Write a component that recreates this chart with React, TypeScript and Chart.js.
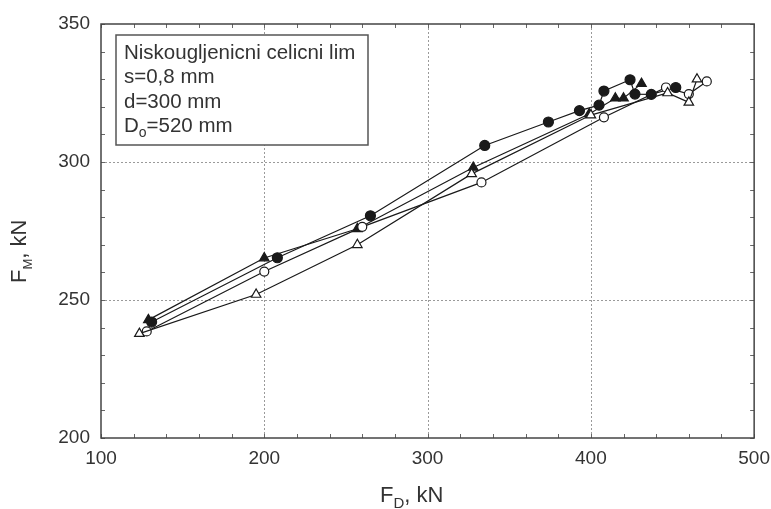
import React, { useEffect, useRef } from "react";
import { Chart, registerables } from "chart.js";

Chart.register(...registerables);

// Filled circles
const fcX = [131, 208, 265, 335, 374, 393, 405, 408, 424, 427, 437, 452];
const fcY = [242, 265.3, 280.5, 306, 314.5, 318.6, 320.6, 325.7, 329.8, 324.6, 324.5, 327];
// Filled triangles
const ftX = [129, 200, 257, 328, 399, 415, 420, 431];
const ftY = [242.8, 265.2, 275.8, 298, 317.4, 323.1, 323.1, 328.4];
// Open circles
const ocX = [128, 200, 260, 333, 408, 446, 460, 471];
const ocY = [238.6, 260.3, 276.5, 292.6, 316.2, 327, 324.6, 329.2];
// Open triangles
const otX = [123.5, 195, 257, 327, 400, 447, 460, 465];
const otY = [237.8, 252, 270, 295.7, 317, 325, 321.6, 330];

const xMajor = [100, 200, 300, 400, 500];
const yMajor = [200, 250, 300, 350];
const xMinorStep = 20;
const yMinorStep = 10;

const legendLines = ["Niskougljenicni celicni lim", "s=0,8 mm", "d=300 mm"];
const legendLast = { main: "D", sub: "o", rest: "=520 mm" };

const FONT = '"Liberation Sans", Arial, Helvetica, sans-serif';
const TEXT = "#333";
const LINE = "#1a1a1a";

const pts = (xs: number[], ys: number[]) => xs.map((x, i) => ({ x, y: ys[i] }));

const framePlugin = {
  id: "frame",
  beforeDatasetsDraw(chart: any) {
    const { ctx, chartArea: a, scales } = chart;
    const xs = scales.x;
    const ys = scales.y;
    ctx.save();
    ctx.strokeStyle = "#9a9a9a";
    ctx.lineWidth = 1;
    ctx.setLineDash([2, 2]);
    xMajor.slice(1, -1).forEach((v) => {
      const px = Math.round(xs.getPixelForValue(v)) + 0.5;
      ctx.beginPath();
      ctx.moveTo(px, a.top);
      ctx.lineTo(px, a.bottom);
      ctx.stroke();
    });
    yMajor.slice(1, -1).forEach((v) => {
      const py = Math.round(ys.getPixelForValue(v)) + 0.5;
      ctx.beginPath();
      ctx.moveTo(a.left, py);
      ctx.lineTo(a.right, py);
      ctx.stroke();
    });
    ctx.setLineDash([]);
    ctx.strokeStyle = "#666";
    ctx.lineWidth = 1;
    const tl = 4;
    for (let v = xs.min; v <= xs.max + 1e-6; v += xMinorStep) {
      const px = Math.round(xs.getPixelForValue(v)) + 0.5;
      ctx.beginPath();
      ctx.moveTo(px, a.bottom);
      ctx.lineTo(px, a.bottom - tl);
      ctx.moveTo(px, a.top);
      ctx.lineTo(px, a.top + tl);
      ctx.stroke();
    }
    for (let v = ys.min; v <= ys.max + 1e-6; v += yMinorStep) {
      const py = Math.round(ys.getPixelForValue(v)) + 0.5;
      ctx.beginPath();
      ctx.moveTo(a.left, py);
      ctx.lineTo(a.left + tl, py);
      ctx.moveTo(a.right, py);
      ctx.lineTo(a.right - tl, py);
      ctx.stroke();
    }
    ctx.strokeStyle = "#444";
    ctx.lineWidth = 1.5;
    ctx.strokeRect(a.left, a.top, a.right - a.left, a.bottom - a.top);
    ctx.restore();
  },
  afterDatasetsDraw(chart: any) {
    const { ctx, chartArea: a } = chart;
    ctx.save();
    const bx = a.left + 15;
    const by = a.top + 11;
    const bw = 252;
    const bh = 110;
    ctx.fillStyle = "#fff";
    ctx.fillRect(bx, by, bw, bh);
    ctx.strokeStyle = "#555";
    ctx.lineWidth = 1.5;
    ctx.strokeRect(bx, by, bw, bh);
    ctx.fillStyle = TEXT;
    ctx.font = `20.5px ${FONT}`;
    ctx.textBaseline = "alphabetic";
    ctx.textAlign = "left";
    const tx = bx + 8;
    const base0 = by + 24;
    const lh = 24.3;
    legendLines.forEach((t, i) => ctx.fillText(t, tx, base0 + i * lh));
    const b4 = base0 + 3 * lh;
    ctx.fillText(legendLast.main, tx, b4);
    const w = ctx.measureText(legendLast.main).width;
    ctx.font = `14px ${FONT}`;
    ctx.fillText(legendLast.sub, tx + w, b4 + 5);
    const w2 = ctx.measureText(legendLast.sub).width;
    ctx.font = `20.5px ${FONT}`;
    ctx.fillText(legendLast.rest, tx + w + w2, b4);

    // x axis title F_D, kN
    const xt = 380;
    const xb = 502;
    ctx.font = `22px ${FONT}`;
    ctx.fillText("F", xt, xb);
    let cx = xt + ctx.measureText("F").width;
    ctx.font = `15px ${FONT}`;
    ctx.fillText("D", cx, xb + 6);
    cx += ctx.measureText("D").width;
    ctx.font = `22px ${FONT}`;
    ctx.fillText(", kN", cx, xb);

    // y axis title F_M, kN (rotated)
    ctx.translate(26, 283);
    ctx.rotate(-Math.PI / 2);
    ctx.font = `22px ${FONT}`;
    ctx.fillText("F", 0, 0);
    let cy = ctx.measureText("F").width;
    ctx.font = `13px ${FONT}`;
    ctx.fillText("M", cy, 6);
    cy += ctx.measureText("M").width;
    ctx.font = `22px ${FONT}`;
    ctx.fillText(", kN", cy, 0);
    ctx.restore();
  },
};

export default function App() {
  const ref = useRef<HTMLCanvasElement | null>(null);
  useEffect(() => {
    document.body.style.margin = "0";
    const base = {
      showLine: true,
      borderColor: LINE,
      borderWidth: 1.2,
      pointBorderColor: LINE,
      pointBorderWidth: 1.2,
      tension: 0,
    };
    const chart = new Chart(ref.current as HTMLCanvasElement, {
      type: "scatter",
      data: {
        datasets: [
          { ...base, label: "ot", data: pts(otX, otY), pointStyle: "triangle", pointRadius: 5.5, pointBackgroundColor: "#fff" },
          { ...base, label: "oc", data: pts(ocX, ocY), pointStyle: "circle", pointRadius: 4.5, pointBackgroundColor: "#fff" },
          { ...base, label: "ft", data: pts(ftX, ftY), pointStyle: "triangle", pointRadius: 5.5, pointBackgroundColor: LINE },
          { ...base, label: "fc", data: pts(fcX, fcY), pointStyle: "circle", pointRadius: 5, pointBackgroundColor: LINE },
        ],
      },
      options: {
        animation: false,
        responsive: false,
        devicePixelRatio: 1,
        layout: { padding: { left: 0, right: 15, top: 24, bottom: 0 } },
        plugins: { legend: { display: false }, tooltip: { enabled: false } },
        scales: {
          x: {
            type: "linear",
            min: 100,
            max: 500,
            grid: { display: false },
            border: { display: false },
            ticks: {
              stepSize: 100,
              padding: 1,
              color: TEXT,
              font: { family: FONT, size: 19 },
            },
            afterFit: (s: any) => {
              s.height = 71;
            },
          },
          y: {
            type: "linear",
            min: 200,
            max: 350,
            grid: { display: false },
            border: { display: false },
            ticks: {
              stepSize: 50,
              padding: 3,
              color: TEXT,
              font: { family: FONT, size: 19 },
            },
            afterFit: (s: any) => {
              s.width = 101;
            },
          },
        },
      },
      plugins: [framePlugin],
    } as any);
    return () => chart.destroy();
  }, []);
  return (
    <div style={{ position: "fixed", left: 0, top: 0, width: 771, height: 509, background: "#fff" }}>
      <canvas ref={ref} width={771} height={509} />
    </div>
  );
}
